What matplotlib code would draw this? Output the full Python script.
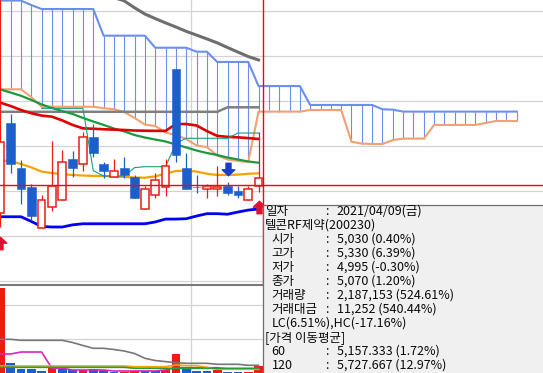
import matplotlib.pyplot as plt
import numpy as np
from matplotlib.path import Path
from matplotlib.lines import Line2D

plt.rcParams['font.family'] = ['Noto Sans CJK KR', 'DejaVu Sans']

# daily candles, 2021/03/05 .. 2021/04/09
opens  = [4880, 5380, 5130, 5020, 4795, 4910, 4950, 5180, 5150, 5300, 5150, 5080, 5130,
          5080, 4900, 4980, 5020, 5680, 5130, 5020, 5010, 5010, 5030, 5000, 4950, 5030]
highs  = [6120, 5430, 5170, 5040, 4980, 5280, 5230, 5220, 5330, 5370, 5160, 5180, 5190,
          5090, 5030, 5100, 5180, 5680, 5210, 5090, 5040, 5140, 5050, 5030, 5030, 5330]
lows   = [4800, 5100, 4930, 4840, 4795, 4890, 4950, 5080, 5110, 5190, 5070, 5080, 5070,
          4960, 4900, 4960, 4970, 5160, 5010, 4990, 4960, 4970, 4980, 4960, 4950, 4995]
closes = [5270, 5150, 5010, 4860, 4950, 5030, 5160, 5130, 5300, 5210, 5110, 5110, 5090,
          4960, 5010, 5060, 5140, 5200, 5010, 5020, 5030, 5020, 4990, 4980, 5010, 5070]

# price overlays
ma120 = [6500, 6450, 6400, 6350, 6300, 6260, 6220, 6190, 6160, 6130, 6100, 6075, 6056,
         6018, 5983, 5958, 5934, 5911, 5887, 5866, 5845, 5823, 5797, 5772, 5747, 5728]
ma60 = [5564, 5547, 5529, 5506, 5481, 5461, 5444, 5428, 5406, 5386, 5367, 5347, 5331,
        5311, 5297, 5286, 5275, 5258, 5242, 5225, 5211, 5200, 5186, 5175, 5164, 5157]
ma_red = [5491, 5472, 5450, 5432, 5419, 5413, 5392, 5367, 5348, 5346, 5343, 5341, 5339,
          5336, 5335, 5334, 5334, 5372, 5372, 5364, 5333, 5306, 5301, 5298, 5294, 5289]
ma_orange = [5169, 5167, 5150, 5131, 5108, 5100, 5093, 5089, 5086, 5084, 5083, 5081, 5078,
             5075, 5074, 5081, 5097, 5111, 5113, 5108, 5096, 5089, 5089, 5091, 5096, 5098]
kijun = [5440] * 22 + [5465] * 4
tenkan = [np.nan] * 4 + [5459, 5459, 5459, 5459, 5459, 5113, 5083, 5083, 5083,
                         5130, 5135, 5135, 5135, 5265, 5293, 5293, 5293, 5293, 5293,
                         5322, 5322, 5322]
lower_band = [4857, 4857, 4857, 4831, 4803, 4800, 4800, 4812, 4818, 4818, 4818, 4818, 4818,
              4818, 4818, 4828, 4844, 4844, 4846, 4861, 4874, 4874, 4871, 4883, 4894, 4900]

# ichimoku cloud, 25 periods ahead
span_b = [6058, 6058, 6058, 6033, 6011, 6011, 6011, 6011, 6011, 6011, 5863, 5863, 5863,
          5863, 5863, 5796, 5796, 5796, 5796, 5774, 5774, 5717, 5717, 5717, 5717, 5583,
          5583, 5583, 5583, 5583, 5478, 5478, 5478, 5478, 5478, 5478, 5478, 5454, 5452,
          5441, 5441, 5441, 5441, 5441, 5441, 5441, 5441, 5441, 5441, 5441, 5441]
span_a = [5565, 5565, 5565, 5522, 5468, 5468, 5468, 5468, 5468, 5468, 5460, 5454, 5439,
          5406, 5369, 5361, 5325, 5311, 5289, 5253, 5244, 5197, 5175, 5167, 5161, 5441,
          5441, 5441, 5441, 5441, 5450, 5450, 5450, 5450, 5274, 5263, 5261, 5261, 5283,
          5291, 5291, 5291, 5367, 5367, 5367, 5367, 5367, 5378, 5389, 5389, 5389]

# volume (million shares) and its averages
volume = [25.1, 2.9, 1.2, 1.2, 0.6, 1.7, 1.2, 0.9, 0.9, 1.2, 0.9, 0.3, 0.3,
          0.6, 0.6, 0.6, 0.9, 5.6, 1.2, 0.7, 0.7, 0.9, 0.3, 0.3, 0.42, 2.19]
vol_up = [1, 0, 0, 0, 0, 1, 0, 0, 1, 0, 0, 0, 1, 1, 0, 0, 1, 1, 0, 0, 0, 1, 0, 0, 1, 1]
vma_gray = [10.0, 10.0, 9.7, 9.7, 9.7, 9.7, 9.7, 9.06, 8.18, 7.35, 7.35, 7.0, 6.56,
            5.82, 4.41, 3.76, 3.44, 3.09, 2.94, 2.94, 2.94, 2.65, 2.65, 2.65, 2.35, 2.35]
vma_magenta = [5.68, 5.68, 6.26, 6.26, 6.26, 1.47, 1.47, 0.97, 0.97, 0.97, 0.97, 0.68, 0.68,
               0.68, 0.68, 0.68, 0.97, 1.65, 1.65, 1.65, 1.65, 1.65, 1.26, 1.26, 1.26, 1.26]
vma_orange = [2.15] * 13 + [1.94] * 4 + [2.44, 2.24, 2.24, 1.76] + [1.18] * 5
vma_green = [1.76] * 13 + [1.47] * 13

# signals
buy_idx, buy_px = [0, 25], [4711, 4911]
sell_idx, sell_px = [22], [5122]

info_labels = ["일자", "텔콘RF제약(200230)", "시가", "고가", "저가", "종가", "거래량",
               "거래대금", "LC(6.51%),HC(-17.16%)", "[가격 이동평균]", "60", "120"]
info_values = ["2021/04/09(금)", None, "5,030 (0.40%)", "5,330 (6.39%)", "4,995 (-0.30%)",
               "5,070 (1.20%)", "2,187,153 (524.61%)", "11,252 (540.44%)", None, None,
               "5,157.333 (1.72%)", "5,727.667 (12.97%)"]
info_indent = [0, 0, 1, 1, 1, 1, 1, 1, 1, 0, 1, 1]

RED = '#ec1c14'
BLUE = '#1c5fcc'

W, H = 543, 373
fig = plt.figure(figsize=(W / 100, H / 100), dpi=100)


def px_axes(x0, y0, x1, y1):
    return fig.add_axes([x0 / W, 1 - y1 / H, (x1 - x0) / W, (y1 - y0) / H])


ax = px_axes(0, 0, 543, 285)
axv = px_axes(0, 286, 543, 373.3)
xlim = (-0.029, 52.54)
for a in (ax, axv):
    a.set_axis_off()
    a.set_xlim(*xlim)
    a.axvline(18.5, color='#d3d3d3', lw=0.9, zorder=0)
ax.set_ylim(4477.8, 6061.1)
axv.set_ylim(0, 25.68)
for p in range(4500, 6001, 250):
    ax.axhline(p, color='#d3d3d3', lw=0.9, zorder=0)
for v in (10, 20):
    axv.axhline(v, color='#d3d3d3', lw=0.9, zorder=0)

x = np.arange(len(opens))
xc = np.arange(len(span_a))

# cloud
ax.vlines(xc[1:], np.array(span_b[1:]), np.array(span_a[1:]), color='#6b8ef0', lw=0.8, zorder=1)
ax.plot(xc, span_b, color='#6b8ef0', lw=1.5, zorder=2)
ax.plot(xc, span_a, color='#f5a070', lw=1.5, zorder=2)

# overlays
ax.plot(x, ma120, color='#6e6e6e', lw=2.2, zorder=3)
ax.plot(x, kijun, color='#7f7f7f', lw=1.8, zorder=3)
ax.plot(x, ma60, color='#1a9a3c', lw=1.6, zorder=3)
ax.plot(x, ma_red, color='#e00000', lw=1.9, zorder=3)
ax.plot(x, ma_orange, color='#f7a200', lw=1.6, zorder=3)
ax.plot(x, tenkan, color='#17a07e', lw=0.8, zorder=3)
ax.plot(x, lower_band, color='#0000f5', lw=2.0, zorder=3)

# candles
up = np.array(closes) > np.array(opens)
lo = np.minimum(opens, closes)
hi = np.maximum(opens, closes)
for i in x:
    col = RED if up[i] else BLUE
    ax.vlines(i, lows[i], highs[i], color=col, lw=0.9, zorder=4)
ax.bar(x[up], (hi - lo)[up], bottom=lo[up], width=0.74, facecolor='white',
       edgecolor=RED, lw=1.1, zorder=5)
ax.bar(x[~up], np.maximum(hi - lo, 2)[~up], bottom=lo[~up], width=0.84,
       color=BLUE, edgecolor=BLUE, lw=0.4, zorder=5)

# signal arrows
arrow_up = Path([(0, 1), (1, 0.05), (0.4, 0.05), (0.4, -1), (-0.4, -1),
                 (-0.4, 0.05), (-1, 0.05), (0, 1)], closed=True)
arrow_dn = Path([(px_, -py) for px_, py in arrow_up.vertices], closed=True)
ax.plot(buy_idx, buy_px, ls='none', marker=arrow_up, ms=9, color='#e01030', zorder=7)
ax.plot(sell_idx, sell_px, ls='none', marker=arrow_dn, ms=9, color='#1a3ec8', zorder=7)

# crosshair
ax.axhline(5033, color='#ff0000', lw=1.0, zorder=6)
ax.axvline(25.46, color='#ff0000', lw=1.0, zorder=6)

# volume
axv.bar(x, volume, width=0.84, color=[RED if u else BLUE for u in vol_up], zorder=2)
axv.plot(x, vma_gray, color='#777777', lw=1.2, zorder=3)
axv.plot(x, vma_magenta, color='#e020c0', lw=1.2, zorder=3)
axv.plot(x, vma_orange, color='#f0a800', lw=1.2, zorder=3)
axv.plot(x, vma_green, color='#2a9a3a', lw=1.2, zorder=3)

fig.add_artist(Line2D([0, 262 / W], [1 - 285 / H] * 2, color='#7a7a7a', lw=1.5))

# info box
axi = px_axes(262.5, 204.5, 546, 376)
axi.set_zorder(10)
axi.set_facecolor('#f0f0f0')
axi.set_xlim(262.5, 546)
axi.set_ylim(376, 204.5)
axi.set_xticks([])
axi.set_yticks([])
for s in ('right', 'bottom'):
    axi.spines[s].set_visible(False)
for s in ('left', 'top'):
    axi.spines[s].set_color('#6e6e6e')
    axi.spines[s].set_linewidth(0.9)
for k, (lab, val, ind) in enumerate(zip(info_labels, info_values, info_indent)):
    yy = 211.5 + 14.0 * k
    axi.text(265 + 6.7 * ind, yy, lab, fontsize=9.0, color='#0a0a0a', va='center', ha='left')
    if val is not None:
        axi.text(325.5, yy, ":", fontsize=9.0, color='#0a0a0a', va='center', ha='left')
        axi.text(336.7, yy, val, fontsize=9.0, color='#0a0a0a', va='center', ha='left')

fig.savefig('out.png', dpi=100)
